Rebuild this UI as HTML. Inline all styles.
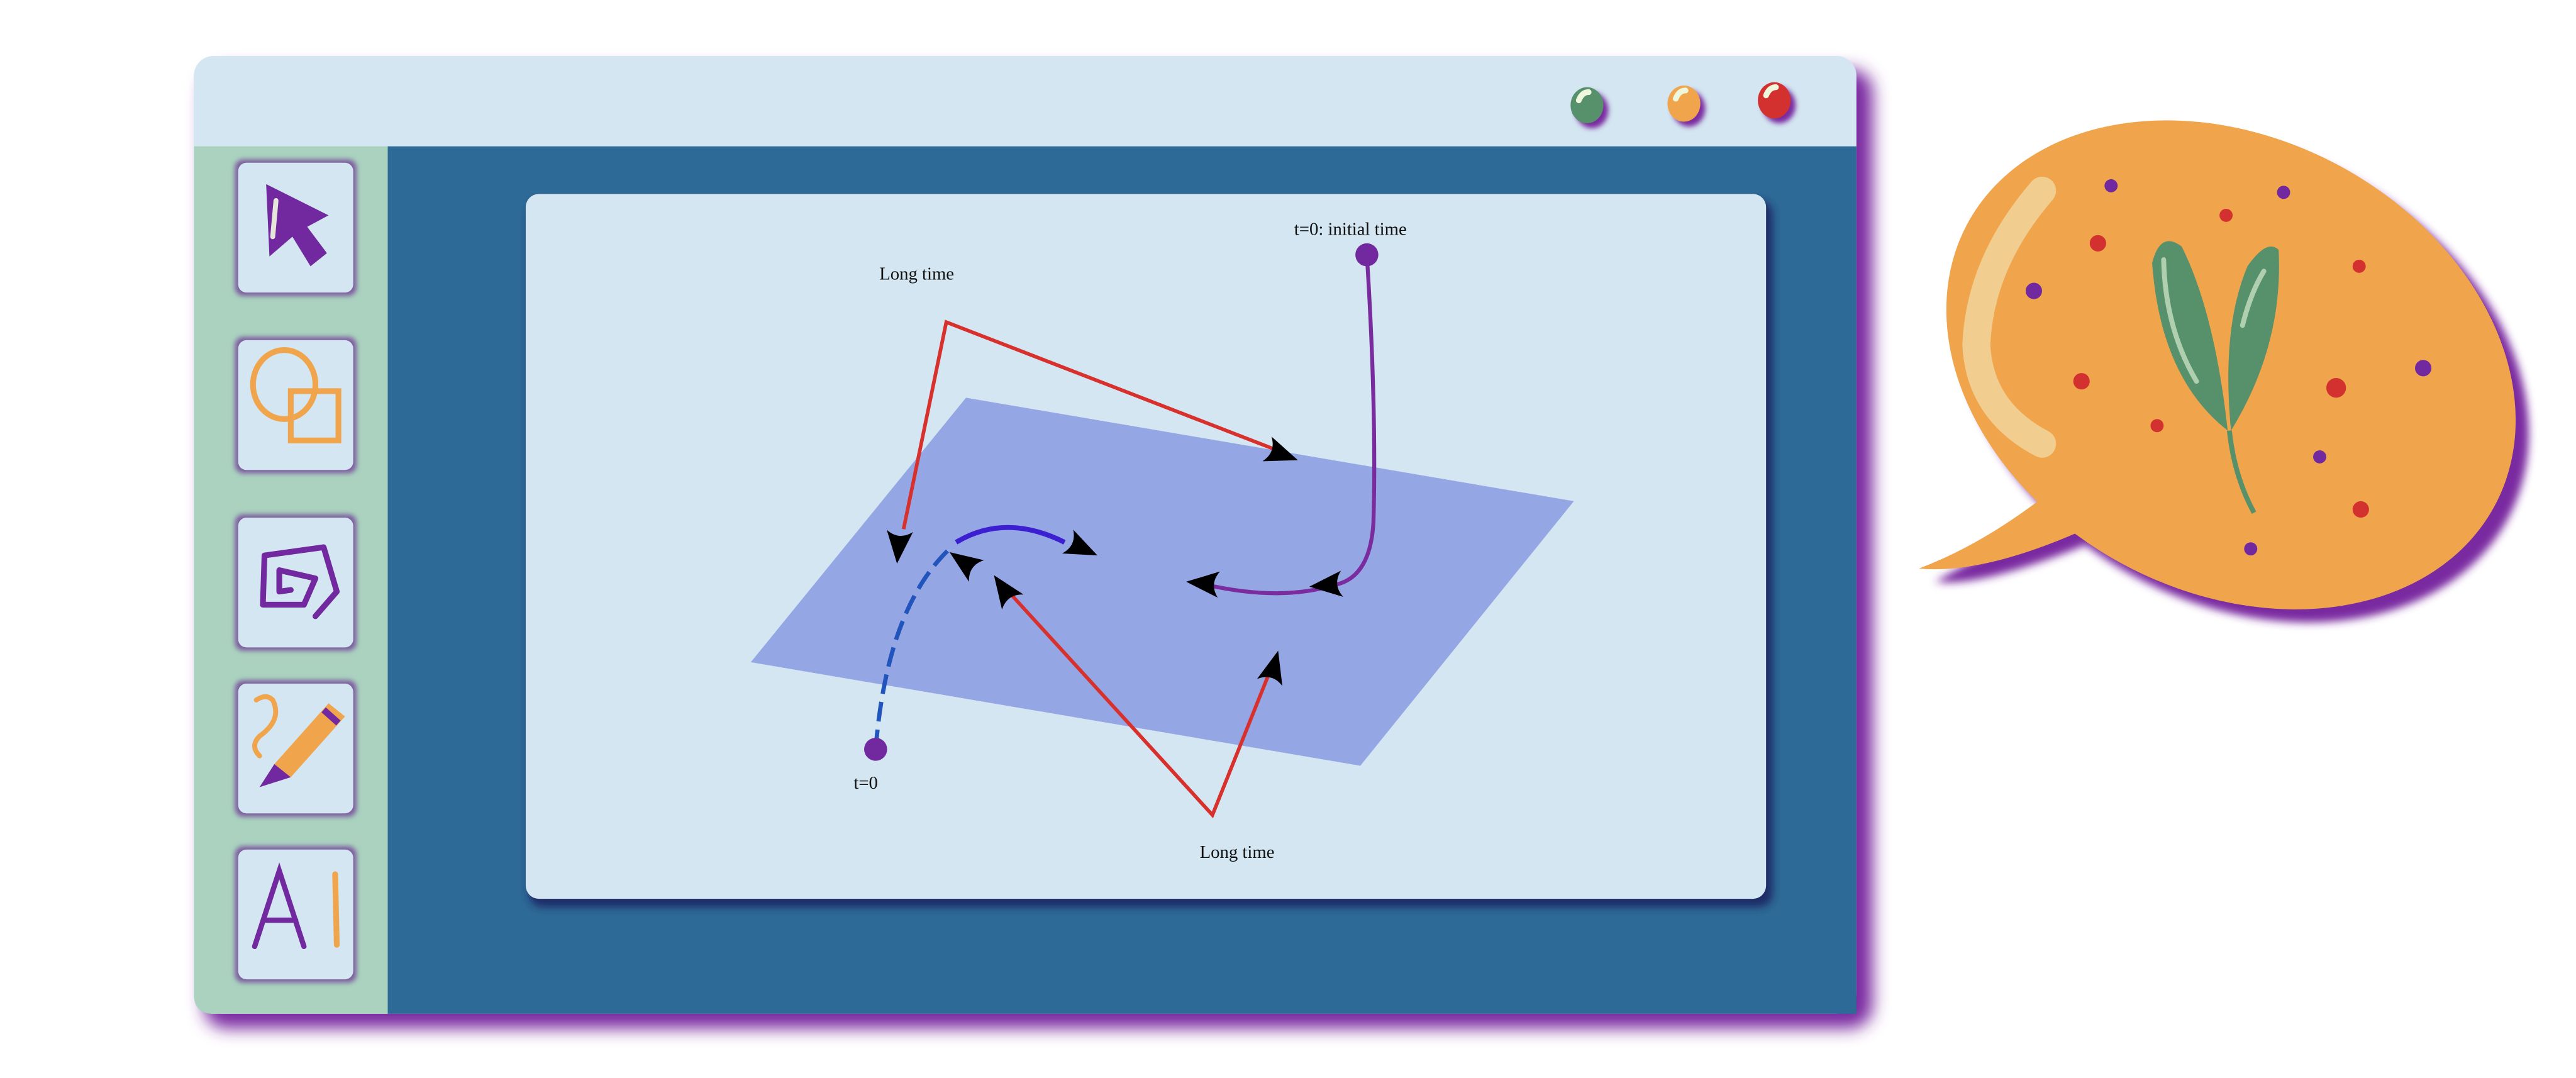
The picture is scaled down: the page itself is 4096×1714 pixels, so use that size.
<!DOCTYPE html>
<html><head><meta charset="utf-8">
<style>
html,body{margin:0;padding:0;background:#fff;width:4096px;height:1714px;overflow:hidden}
svg{display:block}
text{font-family:"Liberation Serif",serif;fill:#111}
</style></head>
<body>
<svg id="scene" width="4096" height="1714" viewBox="0 0 1568 656" xmlns="http://www.w3.org/2000/svg">
<defs>
<filter id="blur6" x="-20%" y="-20%" width="140%" height="140%"><feGaussianBlur stdDeviation="5"/></filter>
<filter id="blur3" x="-30%" y="-30%" width="160%" height="160%"><feGaussianBlur stdDeviation="2.5"/></filter>
<filter id="blur2" x="-50%" y="-50%" width="200%" height="200%"><feGaussianBlur stdDeviation="1.5"/></filter>
</defs>

<!-- window shadow -->
<rect x="124" y="42" width="1016" height="584" rx="14" fill="#7a2ca0" filter="url(#blur6)"/>
<g>
  <rect x="118" y="34" width="1012" height="583" rx="12" fill="#d3e6f1"/>
  <rect x="236" y="89" width="894" height="528" fill="#2e6a97"/>
  <path d="M118 89 H236 V617 H130 Q118 617 118 605 Z" fill="#aad2bf"/>
  <g>
    <ellipse cx="969" cy="67" rx="10" ry="11" fill="#7a2ca0" filter="url(#blur2)"/>
    <ellipse cx="966" cy="64" rx="10" ry="11" fill="#56916c"/>
    <ellipse cx="1028" cy="66" rx="10" ry="11" fill="#7a2ca0" filter="url(#blur2)"/>
    <ellipse cx="1025" cy="63" rx="10" ry="11" fill="#f0a54c"/>
    <ellipse cx="1083" cy="64" rx="10" ry="11" fill="#7a2ca0" filter="url(#blur2)"/>
    <ellipse cx="1080" cy="61" rx="10" ry="11" fill="#d23130"/>
    <path d="M961 61 q2 -5 6 -5" stroke="#eef7dc" stroke-width="3.5" stroke-linecap="round" fill="none"/>
    <path d="M1020 60 q2 -5 6 -5" stroke="#eef7dc" stroke-width="3.5" stroke-linecap="round" fill="none"/>
    <path d="M1075 58 q2 -5 6 -5" stroke="#eef7dc" stroke-width="3.5" stroke-linecap="round" fill="none"/>
  </g>

  <!-- sidebar tool buttons -->
  <g>
    <rect x="143" y="97" width="74" height="83" rx="5" fill="#7c5a9e" filter="url(#blur2)"/>
    <rect x="145" y="99" width="70" height="79" rx="5" fill="#d3e6f1"/>
    <path d="M162 112 L200 131 L187 138 L199 154 L189 162 L178 144 L164 156 Z" fill="#7229a0"/>
    <path d="M168 122 L166 144" stroke="#e5e5da" stroke-width="3" stroke-linecap="round"/>

    <rect x="143" y="205" width="74" height="83" rx="5" fill="#7c5a9e" filter="url(#blur2)"/>
    <rect x="145" y="207" width="70" height="79" rx="5" fill="#d3e6f1"/>
    <ellipse cx="173" cy="234" rx="19" ry="21" fill="none" stroke="#f0a54c" stroke-width="3.5"/>
    <rect x="177" y="238" width="29" height="30" fill="none" stroke="#f0a54c" stroke-width="3.5"/>

    <rect x="143" y="313" width="74" height="83" rx="5" fill="#7c5a9e" filter="url(#blur2)"/>
    <rect x="145" y="315" width="70" height="79" rx="5" fill="#d3e6f1"/>
    <path d="M192 375 L205 360 L197 333 L161 338 L160 368 L185 368 L192 352 L170 347 L170 360 L177 359" fill="none" stroke="#7229a0" stroke-width="3.5" stroke-linejoin="round" stroke-linecap="round"/>

    <rect x="143" y="414" width="74" height="83" rx="5" fill="#7c5a9e" filter="url(#blur2)"/>
    <rect x="145" y="416" width="70" height="79" rx="5" fill="#d3e6f1"/>
    <path d="M167 465 L200 428 L210 436 L177 473 Z" fill="#f0a54c"/>
    <path d="M167 465 L177 473 L158 479 Z" fill="#7229a0"/>
    <path d="M197 432 L206 440" stroke="#7229a0" stroke-width="4"/>
    <path d="M156 426 q6 -4 10 0 q6 12 -8 22 q-6 6 0 12" fill="none" stroke="#f0a54c" stroke-width="3" stroke-linecap="round"/>

    <rect x="143" y="515" width="74" height="83" rx="5" fill="#7c5a9e" filter="url(#blur2)"/>
    <rect x="145" y="517" width="70" height="79" rx="5" fill="#d3e6f1"/>
    <path d="M155 576 L170 530 L185 576 M161 560 L180 560" fill="none" stroke="#7229a0" stroke-width="3.2" stroke-linecap="round"/>
    <path d="M204 532 L205 575" stroke="#f0a54c" stroke-width="3.5" stroke-linecap="round"/>
  </g>
</g>

<!-- chart panel -->
<rect x="322" y="122" width="757" height="430" rx="8" fill="#1a2a66" filter="url(#blur3)"/>
<rect x="320" y="118" width="755" height="429" rx="8" fill="#d3e6f1"/>
<g id="chart"></g>

<!-- speech bubble -->
<g>
  <g transform="translate(8,8)" filter="url(#blur3)">
    <ellipse cx="1358" cy="222" rx="182" ry="138" transform="rotate(28 1358 222)" fill="#7a2ca0"/>
    <path d="M1250 300 L1170 346 Q1200 350 1275 318 Z" fill="#7a2ca0"/>
  </g>
  <ellipse cx="1358" cy="222" rx="182" ry="138" transform="rotate(28 1358 222)" fill="#f0a54c"/>
  <path d="M1252 296 Q1210 330 1168 346 Q1210 350 1278 318 Z" fill="#f0a54c"/>
  <path d="M1243 116 Q1205 160 1203 210 Q1205 250 1243 270" fill="none" stroke="#f2cd90" stroke-width="17" stroke-linecap="round"/>
  <g>
    <path d="M1357 262 Q1360 290 1372 312" fill="none" stroke="#56916c" stroke-width="3"/>
    <path d="M1356 262 Q1315 230 1310 160 Q1315 140 1328 150 Q1348 190 1356 262 Z" fill="#56916c"/>
    <path d="M1358 262 Q1390 210 1387 152 Q1380 145 1368 162 Q1352 200 1358 262 Z" fill="#56916c"/>
    <path d="M1317 158 Q1318 200 1337 232" fill="none" stroke="#b0cfae" stroke-width="3" stroke-linecap="round"/>
    <path d="M1378 165 Q1370 178 1365 198" fill="none" stroke="#b0cfae" stroke-width="3" stroke-linecap="round"/>
  </g>
  <g>
    <circle cx="1285" cy="113" r="4" fill="#7229a0"/><circle cx="1390" cy="117" r="4" fill="#7229a0"/>
    <circle cx="1355" cy="131" r="4" fill="#d23130"/><circle cx="1277" cy="148" r="5" fill="#d23130"/>
    <circle cx="1436" cy="162" r="4" fill="#d23130"/><circle cx="1238" cy="177" r="5" fill="#7229a0"/>
    <circle cx="1267" cy="232" r="5" fill="#d23130"/><circle cx="1422" cy="236" r="6" fill="#d23130"/>
    <circle cx="1475" cy="224" r="5" fill="#7229a0"/><circle cx="1313" cy="259" r="4" fill="#d23130"/>
    <circle cx="1412" cy="278" r="4" fill="#7229a0"/><circle cx="1437" cy="310" r="5" fill="#d23130"/>
    <circle cx="1370" cy="334" r="4" fill="#7229a0"/>
  </g>
</g>

<script>
// geometry of the diagram (in picture units)
const planeCorners = [[588,242],[958,305],[828,466],[457,403]];
const redUpper = [[550,322],[576,196],[780,275]];
const redLower = [[612,358],[738,496],[774,406]];
const purpleStart = [832,155];
const blueStart = [533,456];
const labelText = ["Long time","t=0: initial time","t=0","Long time"];
const labelPos = [[558,170],[822,143],[527,480],[753,522]];

const NS = "http://www.w3.org/2000/svg";
const g = document.getElementById('chart');
function mk(tag, attrs){ const e=document.createElementNS(NS,tag); for(const k in attrs) e.setAttribute(k,attrs[k]); g.appendChild(e); return e; }
function pts(a){ return a.map(p=>p.join(',')).join(' '); }

const plane = mk('polygon',{points:pts(planeCorners),fill:'#95a6e5'});



const r1 = mk('polyline',{points:pts(redUpper),fill:'none',stroke:'#d8302c','stroke-width':2.2});


const r2 = mk('polyline',{points:pts(redLower),fill:'none',stroke:'#d8302c','stroke-width':2.2});



const pc = mk('path',{d:`M${purpleStart[0]} ${purpleStart[1]} Q838 250 836 318 Q834 352 812 356 Q780 366 735 356`,fill:'none',stroke:'#7a2c9e','stroke-width':2.4});



const bd = mk('path',{d:`M${blueStart[0]} ${blueStart[1]} Q540 370 578 334`,fill:'none',stroke:'#2255bb','stroke-width':2.6,'stroke-dasharray':'12 5'});


const bs = mk('path',{d:'M582 330 Q612 312 648 330',fill:'none',stroke:'#3b1fd0','stroke-width':3});



const d1 = mk('circle',{cx:purpleStart[0],cy:purpleStart[1],r:7,fill:'#7229a0'});


const d2 = mk('circle',{cx:blueStart[0],cy:blueStart[1],r:7,fill:'#7229a0'});



// arrowheads: tip and angle (deg)
const arrowTips = [[790,280],[546,343],[668,338],[578,336],[605,350],[778,396],[797,357],[722,354]];
const arrowAngles = [20,95,25,215,235,-75,175,185];
arrowTips.forEach((t,i)=>{
  const a = arrowAngles[i]*Math.PI/180, c=Math.cos(a), s=Math.sin(a);
  const L=20, W=8;
  const bx=t[0]-c*L, by=t[1]-s*L;
  const mx=t[0]-c*L*0.7, my=t[1]-s*L*0.7;
  const p1=[bx - s*W, by + c*W], p2=[bx + s*W, by - c*W];
  const e = mk('path',{d:`M${t[0]} ${t[1]} L${p1[0]} ${p1[1]} Q${mx} ${my} ${p2[0]} ${p2[1]} Z`,fill:'#000'});
  
  
});

labelText.forEach((txt,i)=>{
  const e = mk('text',{x:labelPos[i][0],y:labelPos[i][1],'font-size':11,'text-anchor':'middle'});
  e.textContent = txt;
  
  
});
</script>
</svg>
</body></html>
